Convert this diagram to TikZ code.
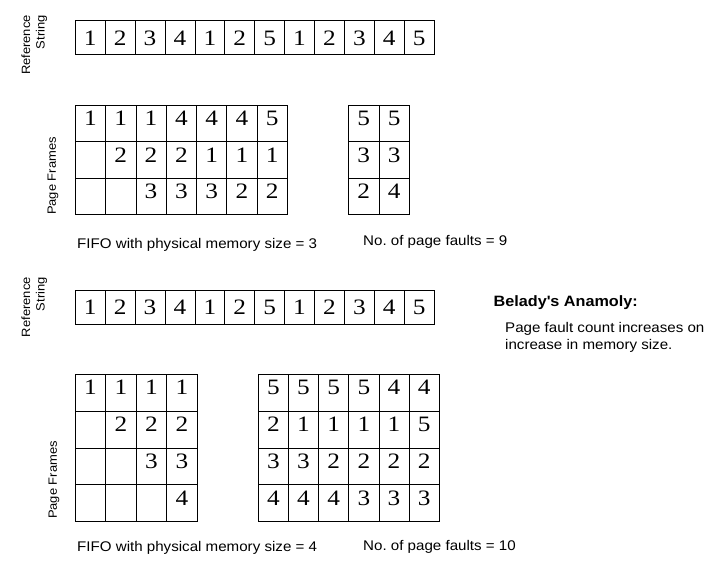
\documentclass[tikz,border=0pt]{standalone}
\usepackage{fontspec}
\setmainfont[FakeStretch=1.08]{Liberation Sans}
\newfontfamily\digitfont[FakeStretch=1.15]{Liberation Serif}
\frenchspacing
\tikzset{
  cell/.style = {draw, line width=0.8pt, inner sep=0pt, text height=14.5pt, text depth=0pt,
                 font=\digitfont\fontsize{22}{22}\selectfont},
  refcell/.style = {cell, minimum width=29.9pt, minimum height=34pt},
  framecell/.style = {cell, text depth=10pt},
  lbl/.style = {inner sep=0pt, anchor=base west, font=\fontsize{14}{16.5}\selectfont},
  sidelbl/.style = {rotate=90, inner sep=0pt, font=\fontsize{12}{14.5}\selectfont}
}
\begin{document}
\begin{tikzpicture}[x=1pt, y=-1pt]
  \path[fill=white, use as bounding box] (0,0) rectangle (708,563);

  % reference strings
  \foreach \v [count=\i] in {1,2,3,4,1,2,5,1,2,3,4,5} {
    \node[refcell] (ra\i) at ({75.3+29.9*(\i-0.5)}, 37.8) {\v};
    \node[refcell] (rb\i) at ({75.3+29.9*(\i-0.5)}, 307.2) {\v};
  }
  \node[sidelbl, align=right, anchor=east] (rlabA) at (34.3,15) {Reference\\String};
  \node[sidelbl, align=right, anchor=east] (rlabB) at (34.3,277) {Reference\\String};

  % frames, memory size 3
  \foreach \a/\b/\c [count=\i] in {1/{}/{},1/2/{},1/2/3,4/2/3,4/1/3,4/1/2,5/1/2} {
    \node[framecell, minimum width=30.3pt, minimum height=36.5pt] (fa\i-1) at ({75.3+30.3*(\i-0.5)}, 123.25) {\a};
    \node[framecell, minimum width=30.3pt, minimum height=36.5pt] (fa\i-2) at ({75.3+30.3*(\i-0.5)}, 159.75) {\b};
    \node[framecell, minimum width=30.3pt, minimum height=36.5pt] (fa\i-3) at ({75.3+30.3*(\i-0.5)}, 196.25) {\c};
  }
  \foreach \a/\b/\c [count=\i] in {5/3/2,5/3/4} {
    \node[framecell, minimum width=30.4pt, minimum height=36.5pt] (ga\i-1) at ({348.5+30.4*(\i-0.5)}, 123.25) {\a};
    \node[framecell, minimum width=30.4pt, minimum height=36.5pt] (ga\i-2) at ({348.5+30.4*(\i-0.5)}, 159.75) {\b};
    \node[framecell, minimum width=30.4pt, minimum height=36.5pt] (ga\i-3) at ({348.5+30.4*(\i-0.5)}, 196.25) {\c};
  }
  \node[sidelbl] (pfA) at (53,176) {Page Frames};
  \node[lbl] (fifoA) at (77,248) {FIFO with physical memory size = 3};
  \node[lbl] (faultA) at (363,245) {No. of page faults = 9};

  % frames, memory size 4
  \foreach \a/\b/\c/\d [count=\i] in {1/{}/{}/{},1/2/{}/{},1/2/3/{},1/2/3/4} {
    \node[framecell, minimum width=30.5pt, minimum height=36.85pt] (fb\i-1) at ({75.3+30.5*(\i-0.5)}, 392.7) {\a};
    \node[framecell, minimum width=30.5pt, minimum height=36.85pt] (fb\i-2) at ({75.3+30.5*(\i-0.5)}, 429.55) {\b};
    \node[framecell, minimum width=30.5pt, minimum height=36.85pt] (fb\i-3) at ({75.3+30.5*(\i-0.5)}, 466.4) {\c};
    \node[framecell, minimum width=30.5pt, minimum height=36.85pt] (fb\i-4) at ({75.3+30.5*(\i-0.5)}, 503.25) {\d};
  }
  \foreach \a/\b/\c/\d [count=\i] in {5/2/3/4,5/1/3/4,5/1/2/4,5/1/2/3,4/1/2/3,4/5/2/3} {
    \node[framecell, minimum width=30.17pt, minimum height=36.85pt] (gb\i-1) at ({258.3+30.17*(\i-0.5)}, 392.7) {\a};
    \node[framecell, minimum width=30.17pt, minimum height=36.85pt] (gb\i-2) at ({258.3+30.17*(\i-0.5)}, 429.55) {\b};
    \node[framecell, minimum width=30.17pt, minimum height=36.85pt] (gb\i-3) at ({258.3+30.17*(\i-0.5)}, 466.4) {\c};
    \node[framecell, minimum width=30.17pt, minimum height=36.85pt] (gb\i-4) at ({258.3+30.17*(\i-0.5)}, 503.25) {\d};
  }
  \node[sidelbl] (pfB) at (54,480) {Page Frames};
  \node[lbl] (fifoB) at (77,551.5) {FIFO with physical memory size = 4};
  \node[lbl] (faultB) at (363,550) {No. of page faults = 10};

  % note
  \node[lbl, font=\bfseries\fontsize{15}{16.5}\selectfont] (belady) at (493.5,306.5) {Belady\textquotesingle s Anamoly:};
  \node[lbl, align=left] (note) at (505,349) {Page fault count increases on\\increase in memory size.};
\end{tikzpicture}
\end{document}
